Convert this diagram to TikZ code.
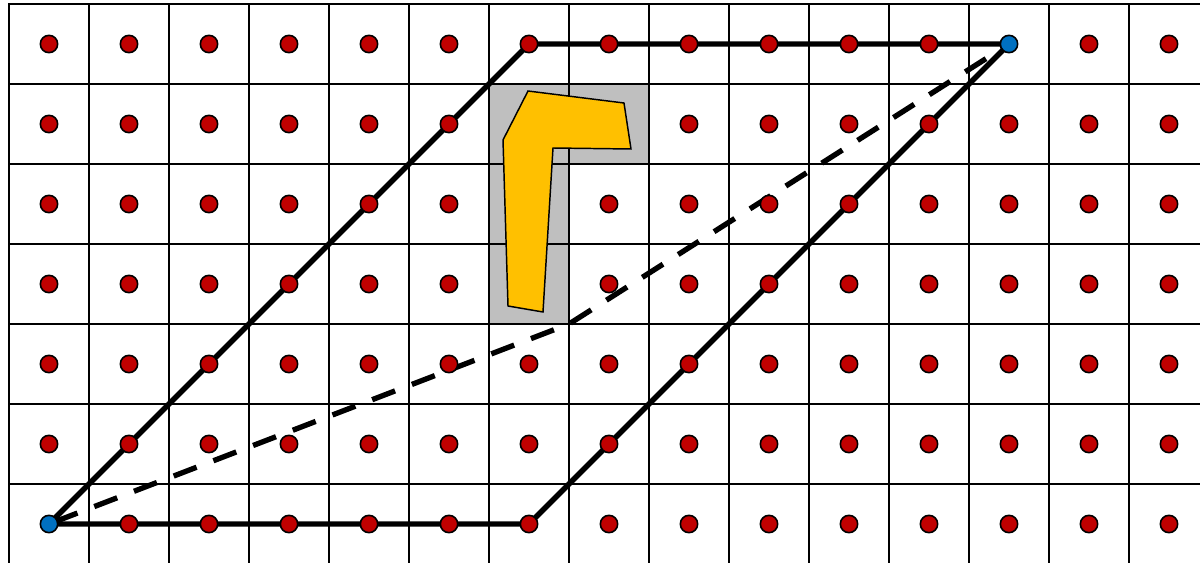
\documentclass[tikz,border=0pt]{standalone}
\definecolor{dotred}{HTML}{C00000}
\definecolor{dotblue}{HTML}{0070C0}
\definecolor{shapeyellow}{HTML}{FFC000}
\definecolor{shadegray}{HTML}{BFBFBF}
\tikzset{
  gridline/.style={line width=1.7pt, black, line cap=rect},
  shade/.style={fill=shadegray},
  poly/.style={draw=black, fill=shapeyellow, line width=1.1pt, line join=miter},
  edge/.style={line width=4pt, black},
  dashedge/.style={line width=4pt, black, dash pattern=on 18.4pt off 13.5pt, dash phase=27.4pt},
  reddot/.style={circle, draw=black, line width=1.2pt, fill=dotred, inner sep=0pt, minimum size=13pt},
  bluedot/.style={circle, draw=black, line width=1.2pt, fill=dotblue, inner sep=0pt, minimum size=13pt}
}
\begin{document}
\begin{tikzpicture}[x=0.75pt, y=-0.75pt]
\useasboundingbox (0,0) rectangle (1200,563);
\clip (0,0) rectangle (1200,563);
% shaded cells
\fill[shade] (489,84) rectangle (649,164);
\fill[shade] (489,164) rectangle (569,324);
% grid
\foreach \i in {0,...,14} \draw[gridline] ({9+80*\i},4) -- ({9+80*\i},620);
\foreach \j in {0,...,7} \draw[gridline] (9,{4+80*\j}) -- (1260,{4+80*\j});
% yellow shape
\draw[poly] (528,91) -- (624,103) -- (631,149) -- (553,148) -- (543,312) -- (508,306) -- (503,140) -- cycle;
% lattice coordinates
\foreach \i in {0,...,14}{
  \foreach \j in {0,...,6}{
    \coordinate (c-\i-\j) at ({49+80*\i},{44+80*\j});
  }
}
\coordinate (bend) at (569,324);
% parallelogram and dashed diagonal
\draw[edge] (c-0-6) -- (c-6-6) -- (c-12-0) -- (c-6-0) -- cycle;
\draw[dashedge] (c-0-6) -- (bend) -- (c-12-0);
% dots
\foreach \i in {0,...,14}{
  \foreach \j in {0,...,6}{
    \pgfmathtruncatemacro{\dothide}{((\i==6) && (\j>=1) && (\j<=3)) || ((\i==7) && (\j==1)) || ((\i==0) && (\j==6)) || ((\i==12) && (\j==0)) ? 1 : 0}
    \ifnum\dothide=0 \node[reddot] (d-\i-\j) at (c-\i-\j) {};\fi
  }
}
\node[bluedot] (start) at (c-0-6) {};
\node[bluedot] (end) at (c-12-0) {};
\end{tikzpicture}
\end{document}
